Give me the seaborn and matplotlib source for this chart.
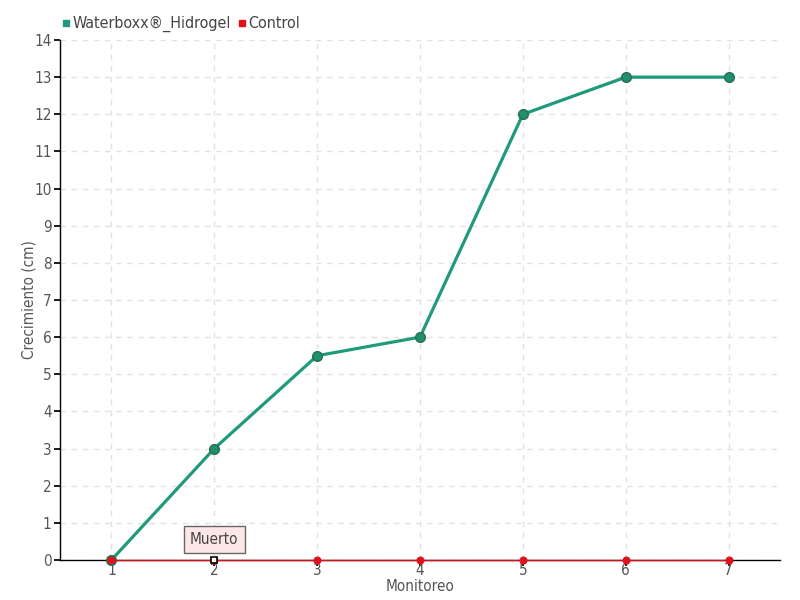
import matplotlib
matplotlib.use("Agg")
import matplotlib.pyplot as plt
import seaborn as sns
import pandas as pd
from matplotlib.lines import Line2D

monitoreo = [1, 2, 3, 4, 5, 6, 7]
waterboxx = [0, 3, 5.5, 6, 12, 13, 13]
control = [0, 0, 0, 0, 0, 0, 0]
series_names = ["Waterboxx®_Hidrogel", "Control"]
y_ticks = list(range(0, 15))
note_text = "Muerto"
note_idx = 1

sns.set_theme(style="white")
plt.rcParams['font.family'] = ['DejaVu Sans']
plt.rcParams['font.stretch'] = 'condensed'

df = pd.DataFrame({
    "Monitoreo": monitoreo * 2,
    "Crecimiento": waterboxx + control,
    "Serie": [series_names[0]] * 7 + [series_names[1]] * 7,
})

green = "#1f9a7c"
red = "#e3101c"
txt = "#555555"

fig = plt.figure(figsize=(8, 6), dpi=100)
ax = fig.add_axes([0.075, 0.0667, 0.9, 0.8666])

sns.lineplot(data=df[df.Serie == series_names[0]], x="Monitoreo", y="Crecimiento",
             color=green, lw=2.3, marker="o", markersize=7, markerfacecolor="#1f8f6c",
             markeredgecolor="#2a6e58", markeredgewidth=1, ax=ax, legend=False, zorder=3)
sns.lineplot(data=df[df.Serie == series_names[1]], x="Monitoreo", y="Crecimiento",
             color="#d4101a", lw=1.0, marker="o", markersize=5, markerfacecolor=red,
             markeredgecolor=red, ax=ax, legend=False, zorder=4)
for ln in ax.lines:
    ln.set_clip_on(False)
ax.lines[1].set_zorder(5)
ax.set_axisbelow(True)

# highlighted point
ax.plot([monitoreo[note_idx]], [control[note_idx]], marker="s", markersize=4.5,
        markerfacecolor="white", markeredgecolor="black", markeredgewidth=1.2,
        zorder=6, clip_on=False)
ax.annotate(note_text, xy=(monitoreo[note_idx], control[note_idx]),
            xytext=(0, 15), textcoords="offset points", ha="center", va="center",
            fontsize=11, color="#444444",
            bbox=dict(boxstyle="square,pad=0.4", fc="#fde6e6", ec="#666666", lw=1),
            arrowprops=dict(arrowstyle="-", color="#666666", lw=0.8), zorder=7)

ax.set_xlim(0.5, 7.5)
ax.set_ylim(0, 14)
ax.set_xticks(monitoreo)
ax.set_yticks(y_ticks)
ax.grid(True, color="#e2e2e2", linestyle=(0, (4, 4)), lw=1)
for s in ["top", "right"]:
    ax.spines[s].set_visible(False)
ax.spines["left"].set_color("black")
ax.spines["bottom"].set_color("black")
ax.spines["left"].set_linewidth(1)
ax.spines["bottom"].set_linewidth(1)
ax.spines["bottom"].set_zorder(2)
ax.tick_params(axis="both", labelsize=11, length=4, direction="out",
               left=True, bottom=True, color="black", labelcolor=txt)
ax.tick_params(axis="x", pad=-2)
ax.tick_params(axis="y", pad=2)
ax.set_xlabel("Monitoreo", fontsize=11, color=txt)
ax.set_ylabel("Crecimiento (cm)", fontsize=11, color=txt)
ax.xaxis.set_label_coords(0.5, -0.036)
ax.yaxis.set_label_coords(-0.033, 0.5)

handles = [Line2D([], [], marker="s", linestyle="", color=green, markersize=4.5),
           Line2D([], [], marker="s", linestyle="", color=red, markersize=4.5)]
fig.legend(handles, series_names, loc="upper left", bbox_to_anchor=(0.055, 0.997),
           ncol=2, frameon=False, fontsize=11.5, handletextpad=-0.1, columnspacing=0.2,
           labelcolor="#444444", handlelength=1.0)

fig.savefig("out.png", dpi=100)
